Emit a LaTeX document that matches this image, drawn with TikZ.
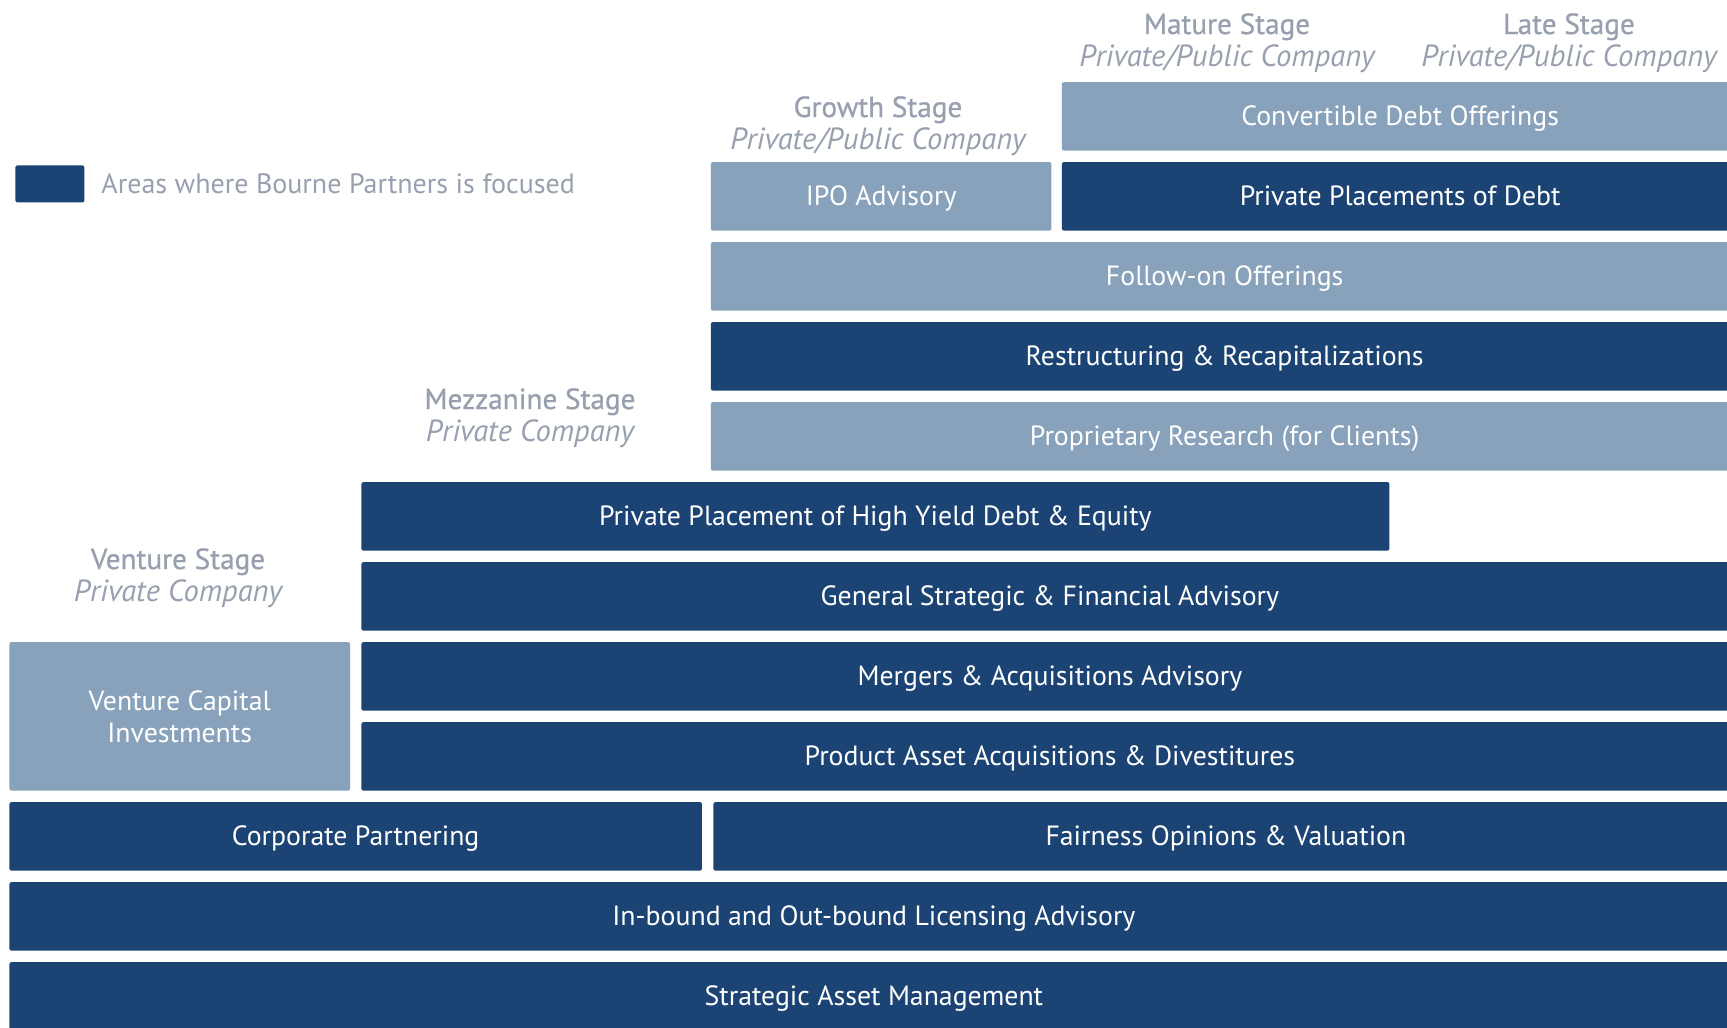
\documentclass[tikz,border=0pt]{standalone}
\usepackage{fontspec}
\setmainfont{PT Sans}
\newfontface\headface{PT Sans}[FakeBold=0.7]
\definecolor{navy}{HTML}{1B4474}
\definecolor{steel}{HTML}{87A2BA}
\definecolor{caption}{HTML}{98A0B0}
\tikzset{
  tile/.style={rectangle, rounded corners=1pt, inner sep=0pt, anchor=north west,
    minimum height=34.25pt, text=white, font=\fontsize{13.9}{16}\selectfont, align=center,
    text height=11pt, text depth=2.1pt},
  focus/.style={tile, fill=navy},
  other/.style={tile, fill=steel},
  stagelabel/.style={text=caption, align=center, inner sep=0pt,
    font=\fontsize{14.6}{16.2}\selectfont},
}
\newcommand{\stagetext}[2]{{\headface #1}\\{\fontsize{15.3}{16.2}\selectfont\itshape #2}}
\begin{document}
\begin{tikzpicture}[x=0.5pt,y=-0.5pt]
\useasboundingbox (0,0) rectangle (1727,1027);
\fill[white] (0,0) rectangle (1727,1027);

% legend
\node[focus, minimum width=34.5pt, minimum height=18.5pt, text height=, text depth=] (key) at (15,165) {};
\node[anchor=west, text=caption, inner sep=0pt, font=\fontsize{14.0}{16}\selectfont]
  (keytext) at (101,184) {Areas where Bourne Partners is focused};

% stage headings
\node[stagelabel] (mature) at (1227,43) {\stagetext{Mature Stage}{Private/Public Company}};
\node[stagelabel] (late) at (1569,43) {\stagetext{Late Stage}{Private/Public Company}};
\node[stagelabel] (growth) at (878,126) {\stagetext{Growth Stage}{Private/Public Company}};
\node[stagelabel] (mezz) at (530,418) {\stagetext{Mezzanine Stage}{Private Company}};
\node[stagelabel] (venture) at (178,578) {\stagetext{Venture Stage}{Private Company}};

% service tiles, top to bottom
\node[other, minimum width=338.25pt] (conv) at (1061.5,81.7) {Convertible Debt Offerings};
\node[other, minimum width=170.25pt] (ipo) at (710.5,161.7) {IPO Advisory};
\node[focus, minimum width=338.25pt] (ppd) at (1061.5,161.7) {Private Placements of Debt};
\node[other, minimum width=513.75pt] (follow) at (710.5,241.7) {Follow-on Offerings};
\node[focus, minimum width=513.75pt] (restr) at (710.5,321.7) {Restructuring \& Recapitalizations};
\node[other, minimum width=513.75pt] (research) at (710.5,401.7) {Proprietary Research (for Clients)};
\node[focus, minimum width=514pt] (highyield) at (361,481.7) {Private Placement of High Yield Debt \& Equity};
\node[focus, minimum width=688.5pt] (general) at (361,561.7) {General Strategic \& Financial Advisory};
\node[focus, minimum width=688.5pt] (mna) at (361,641.7) {Mergers \& Acquisitions Advisory};
\node[focus, minimum width=688.5pt] (product) at (361,721.7) {Product Asset Acquisitions \& Divestitures};
\node[other, minimum width=170.3pt, minimum height=74.3pt, text height=, text depth=]
  (vc) at (9,641.7) {Venture Capital\\Investments};
\node[focus, minimum width=346.25pt] (corp) at (9,801.7) {Corporate Partnering};
\node[focus, minimum width=512.5pt] (fair) at (713,801.7) {Fairness Opinions \& Valuation};
\node[focus, minimum width=864.5pt] (licensing) at (9,881.7) {In-bound and Out-bound Licensing Advisory};
\node[focus, minimum width=864.5pt] (sam) at (9,961.7) {Strategic Asset Management};
\end{tikzpicture}
\end{document}
